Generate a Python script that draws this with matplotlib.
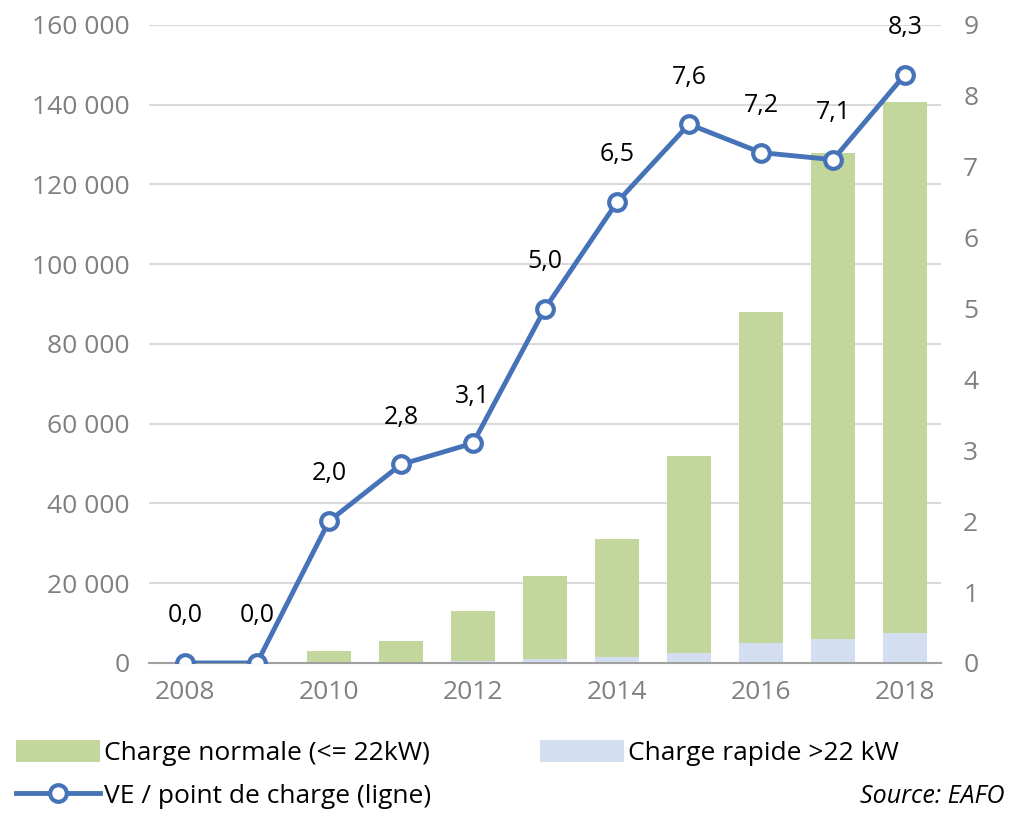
import matplotlib.pyplot as plt
from matplotlib.ticker import FuncFormatter

plt.rcParams['font.family'] = ['Open Sans', 'DejaVu Sans']

years = [2008, 2009, 2010, 2011, 2012, 2013, 2014, 2015, 2016, 2017, 2018]
normale = [0, 0, 2900, 5400, 12600, 20600, 29400, 49400, 83000, 122000, 133000]
rapide = [0, 0, 100, 150, 500, 1100, 1600, 2600, 5100, 6000, 7600]
ve_par_point = [0.0, 0.0, 2.0, 2.8, 3.1, 5.0, 6.5, 7.6, 7.2, 7.1, 8.3]

green = '#c3d69b'
lightblue = '#d3dff1'
blue = '#4673b8'
grey = '#808080'

fig = plt.figure(figsize=(10.1, 8.25), dpi=100)
ax = fig.add_axes([0.1475, 0.1964, 0.7842, 0.7733])

b1 = ax.bar(years, rapide, width=0.6, color=lightblue, zorder=2)
b2 = ax.bar(years, normale, width=0.6, bottom=rapide, color=green, zorder=2)

ax.set_xlim(2007.5, 2018.5)
ax.set_ylim(0, 160000)
ax.set_yticks(range(0, 160001, 20000))
ax.yaxis.set_major_formatter(FuncFormatter(lambda v, p: f'{int(v):,}'.replace(',', ' ')))
ax.set_xticks(years[::2])
ax.grid(axis='y', color='#d9d9d9', lw=1.5, zorder=0)
ax.set_axisbelow(True)
for s in ['top', 'right', 'left']:
    ax.spines[s].set_visible(False)
ax.spines['bottom'].set_color('#a0a0a0')
ax.spines['bottom'].set_linewidth(1.5)
ax.tick_params(axis='both', length=0, labelsize=19, colors=grey)
ax.tick_params(axis='y', pad=14)
ax.tick_params(axis='x', pad=12)

ax2 = ax.twinx()
ax2.set_ylim(0, 9)
ax2.set_yticks(range(0, 10))
for s in ax2.spines.values():
    s.set_visible(False)
ax2.tick_params(axis='y', length=0, labelsize=19, colors=grey, pad=16)
line, = ax2.plot(years, ve_par_point, color=blue, lw=3.5, marker='o', ms=12,
                 mfc='white', mec=blue, mew=3, zorder=5)
for x, v in zip(years, ve_par_point):
    ax2.annotate(f'{v:.1f}'.replace('.', ','), (x, v), xytext=(0, 34),
                 textcoords='offset points', ha='center', va='center',
                 fontsize=18, color='black')

fig.legend([b2, line, b1],
           ['Charge normale (<= 22kW)', 'VE / point de charge (ligne)', 'Charge rapide >22 kW'],
           ncol=2, loc='lower left', bbox_to_anchor=(0.0, 0.0), frameon=False,
           fontsize=19, handlelength=3.2, handleheight=0.9, handletextpad=0.15,
           columnspacing=4.1, labelspacing=0.65, borderaxespad=0.2)
fig.text(0.995, 0.035, 'Source: EAFO', ha='right', va='center', fontsize=18,
         style='italic', color='black')

fig.savefig('out.png', dpi=100)
